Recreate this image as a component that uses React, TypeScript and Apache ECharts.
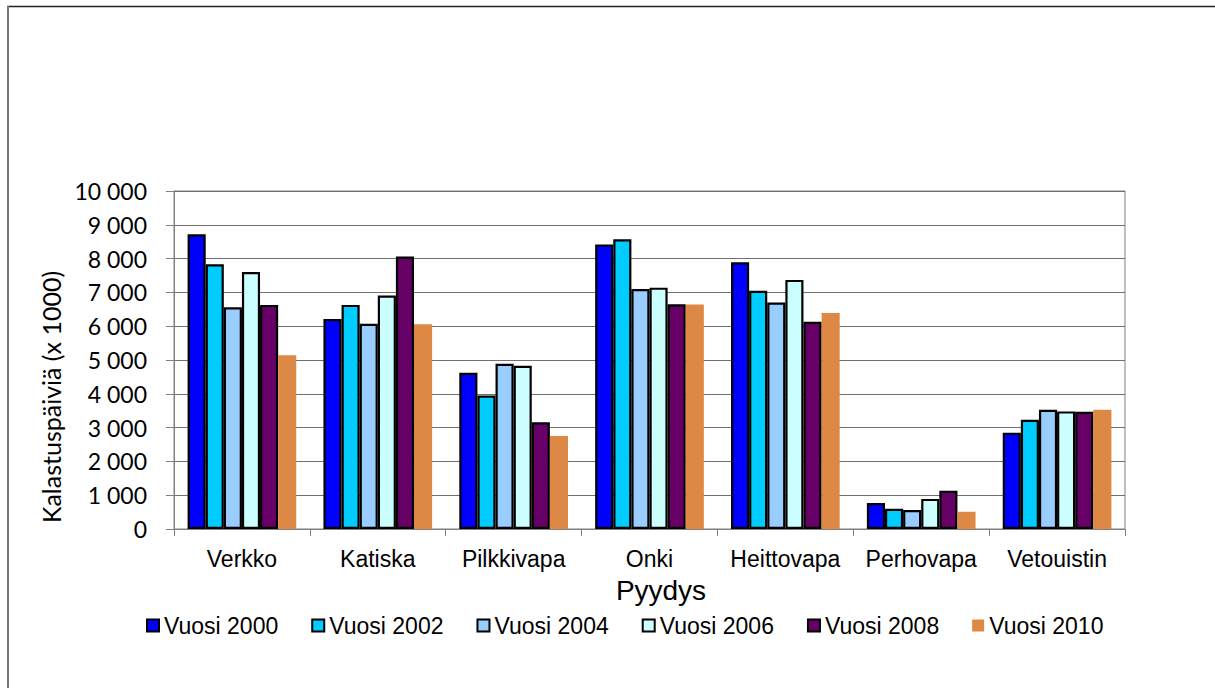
import React, { useEffect, useRef } from "react";
import * as echarts from "echarts";

const categories = ["Verkko", "Katiska", "Pilkkivapa", "Onki", "Heittovapa", "Perhovapa", "Vetouistin"];
const seriesNames = ["Vuosi 2000", "Vuosi 2002", "Vuosi 2004", "Vuosi 2006", "Vuosi 2008", "Vuosi 2010"];
const v2000 = [8720, 6210, 4620, 8420, 7890, 770, 2850];
const v2002 = [7830, 6630, 3950, 8570, 7050, 600, 3230];
const v2004 = [6560, 6070, 4890, 7100, 6700, 560, 3530];
const v2006 = [7600, 6910, 4830, 7140, 7370, 890, 3480];
const v2008 = [6630, 8060, 3160, 6650, 6130, 1130, 3470];
const v2010 = [5140, 6060, 2750, 6640, 6390, 510, 3530];
const seriesValues = [v2000, v2002, v2004, v2006, v2008, v2010];
const colors = ["#0000FF", "#00CCFF", "#99CCFF", "#CCFFFF", "#660066", "#DD8844"];
const yTitle = "Kalastuspäiviä (x 1000)";
const xTitle = "Pyydys";

const fmt = (v: number) => String(v).replace(/\B(?=(\d{3})+(?!\d))/g, " ");

export default function App() {
  const ref = useRef<HTMLDivElement>(null);
  useEffect(() => {
    if (!ref.current) return;
    const chart = echarts.init(ref.current, null, { renderer: "svg" });
    chart.setOption({
      animation: false,
      backgroundColor: "#ffffff",
      textStyle: { fontFamily: "Liberation Sans" },
      grid: { left: 174, right: 90, top: 191, bottom: 159, containLabel: false, show: true, borderColor: "#808080", borderWidth: 1 },
      legend: {
        left: 141,
        top: 609,
        itemWidth: 12,
        itemHeight: 12,
        itemGap: 33,
        icon: "rect",
        textStyle: { fontFamily: "Liberation Sans", fontSize: 23, color: "#000" },
        data: seriesNames,
      },
      xAxis: {
        type: "category",
        data: categories,
        axisLine: { show: true, lineStyle: { color: "#808080", width: 1 } },
        axisTick: { show: true, length: 7, lineStyle: { color: "#808080" } },
        axisLabel: { fontFamily: "Liberation Sans", fontSize: 23, color: "#000", margin: 18, interval: 0 },
      },
      yAxis: {
        type: "value",
        min: 0,
        max: 10000,
        interval: 1000,
        axisLine: { show: true, lineStyle: { color: "#808080", width: 1 } },
        axisTick: { show: true, inside: false, length: 8, lineStyle: { color: "#808080" } },
        axisLabel: { fontFamily: "Lato", fontSize: 23, color: "#000", margin: 27, formatter: (v: number) => fmt(v) },
        splitLine: { show: true, lineStyle: { color: "#707070", width: 1 } },
      },
      series: seriesNames.map((name, i) => ({
        name,
        type: "bar",
        data: seriesValues[i],
        barGap: "0%",
        barCategoryGap: "20%",
        itemStyle: {
          color: colors[i],
          borderColor: i === 5 ? colors[i] : "#000",
          borderWidth: i === 5 ? 0 : 2.2,
        },
      })),
      graphic: [
        { type: "line", shape: { x1: 7, y1: 6.5, x2: 1215, y2: 6.5 }, style: { stroke: "#222", lineWidth: 1.5 } },
        { type: "line", shape: { x1: 8, y1: 6, x2: 8, y2: 688 }, style: { stroke: "#777", lineWidth: 2 } },
        {
          type: "text",
          x: 51,
          y: 397,
          rotation: Math.PI / 2,
          style: { text: yTitle, fontFamily: "Lato", fontSize: 25, fill: "#000", align: "center", verticalAlign: "middle" },
        },
        {
          type: "text",
          x: 661,
          y: 590,
          style: { text: xTitle, fontFamily: "Liberation Sans", fontSize: 28, fill: "#000", align: "center", verticalAlign: "middle" },
        },
      ],
    });
    return () => chart.dispose();
  }, []);
  return <div ref={ref} style={{ position: "fixed", left: 0, top: 0, width: 1215, height: 688, background: "#fff" }} />;
}
